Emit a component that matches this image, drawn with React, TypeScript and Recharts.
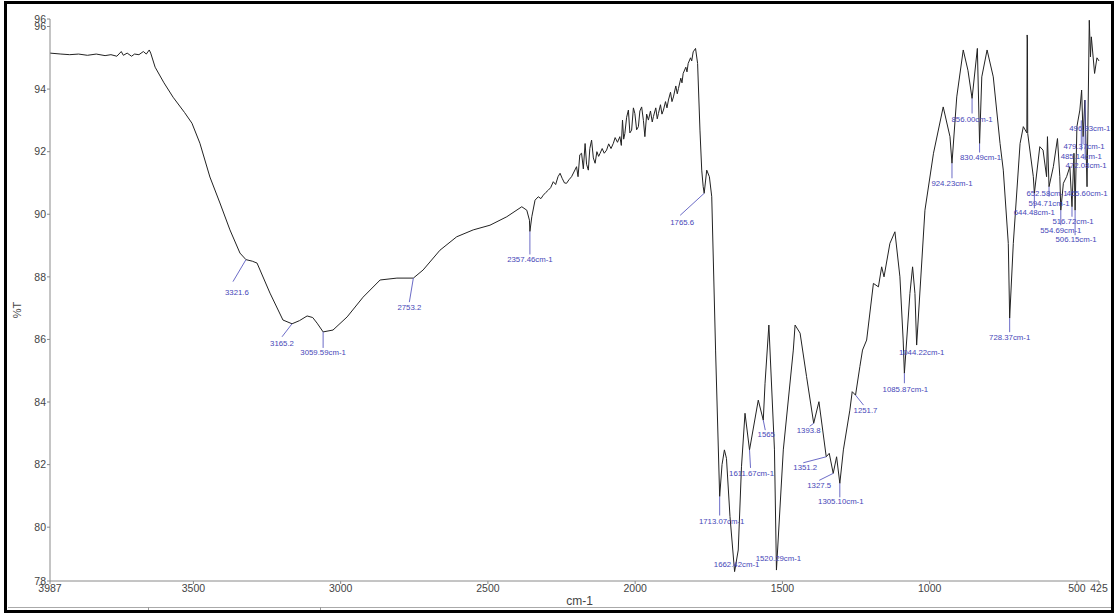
import React from "react";
import { LineChart, Line, XAxis, YAxis, ReferenceDot } from "recharts";

// IR spectrum: wavenumber (cm-1) and transmittance (%T)
const wavenumbers = [
  3987, 3950, 3920, 3890, 3860, 3830, 3800, 3780, 3760, 3745, 3738, 3725, 3710, 3700, 3685, 3670, 3660, 3650, 3645,
  3630, 3600, 3569, 3530, 3505, 3478, 3444, 3410, 3376, 3342, 3321.6, 3300, 3284, 3240, 3196, 3165.2, 3140, 3114,
  3095, 3080, 3059.59, 3026, 2978, 2924, 2866, 2809, 2753.2, 2720, 2663, 2606, 2550, 2493, 2436, 2385, 2368, 2359,
  2357.46, 2351, 2340, 2329, 2320, 2312, 2303, 2295, 2287, 2278, 2270, 2262, 2255, 2248, 2240, 2233, 2225, 2216,
  2208, 2199, 2194, 2188, 2182, 2176, 2170, 2165, 2159, 2154, 2148, 2142, 2136, 2130, 2124, 2119, 2112, 2105, 2097,
  2090, 2082, 2074, 2068, 2060, 2052, 2047, 2043, 2039, 2035, 2029, 2023, 2018, 2012, 2006, 2001, 1995, 1989, 1984,
  1978, 1972, 1967, 1961, 1955, 1948, 1942, 1938, 1930, 1925, 1921, 1914, 1909, 1904, 1897, 1892, 1887, 1880, 1875,
  1870, 1862, 1857, 1853, 1845, 1841, 1837, 1828, 1824, 1820, 1812, 1808, 1803, 1795,
  1788, 1780, 1774, 1769, 1765.6, 1757, 1748, 1740, 1727, 1713.07, 1705, 1697, 1690, 1678, 1662.42,
  1650, 1639, 1627, 1611.67, 1582, 1565, 1559, 1546, 1527, 1520.29, 1497, 1463, 1457, 1440, 1418, 1393.8, 1376,
  1351.2, 1341, 1327.5, 1316, 1305.1, 1293, 1271, 1263, 1251.7, 1237, 1228, 1214, 1191, 1174, 1163, 1155, 1135,
  1118, 1101, 1090, 1085.87, 1067, 1058, 1050, 1044.22, 1016, 987, 954, 931, 924.23, 908, 886, 870, 856, 838,
  830.49, 823, 805, 784, 761, 750, 733, 728.37, 716, 693, 682, 670, 669, 668, 667, 648, 644.48, 626, 615, 603, 600,
  594.71, 580, 566, 558, 554.69, 546, 535, 524, 516.72, 510, 506.15, 500, 490, 484, 479, 473, 465.6, 462, 458, 454,
  451, 440, 432, 425,
];
const transmittance = [
  95.15, 95.12, 95.1, 95.12, 95.08, 95.12, 95.07, 95.1, 95.05, 95.2, 95.08, 95.15, 95.05, 95.12, 95.1, 95.2, 95.12, 95.25, 95.15,
  94.7, 94.2, 93.74, 93.25, 92.91, 92.27, 91.19, 90.36, 89.5, 88.76, 88.55, 88.5, 88.44, 87.48, 86.62, 86.5, 86.6, 86.75,
  86.7, 86.52, 86.24, 86.3, 86.72, 87.35, 87.9, 87.96, 87.96, 88.22, 88.85, 89.28, 89.5, 89.65, 89.92, 90.24, 90.13, 89.81,
  89.45, 89.92, 90.45, 90.56, 90.5, 90.61, 90.7, 90.77, 90.85, 91.04, 90.95, 91.2, 91.31, 91.15, 91.0, 90.99, 91.1, 91.2,
  91.35, 91.52, 91.2, 91.9, 91.95, 91.45, 92.26, 91.6, 91.41, 92.1, 92.37, 91.8, 91.63, 92.0, 91.85, 91.95, 92.1, 91.95, 92.05,
  92.25, 92.1, 92.27, 92.45, 92.3, 92.48, 92.2, 93.01, 92.4, 92.58, 93.1, 93.33, 92.6, 92.69, 93.4, 93.22, 92.7, 92.8, 93.3,
  93.43, 93.0, 92.48, 93.2, 93.01, 93.3, 92.95, 93.12, 93.4, 93.05, 93.22, 93.5, 93.2, 93.33, 93.6, 93.4, 93.65, 93.9, 93.6,
  93.75, 94.1, 93.85, 94.02, 94.35, 94.2, 94.5, 94.7, 94.55, 94.82, 95.0, 94.9, 95.19, 95.3,
  94.82, 92.69, 91.41, 90.88, 90.67, 91.41, 91.2, 90.56, 85.66, 80.98, 82.0, 82.47, 82.2, 80.34, 78.58,
  79.27, 81.93, 83.64, 82.47, 84.06, 83.42, 84.6, 86.46, 82.47, 78.63, 82.47, 85.66, 86.46, 86.2, 84.81, 83.32, 84.01,
  82.25, 82.36, 81.72, 82.25, 81.4, 82.47, 83.74, 84.33, 84.22, 85.13, 85.66, 85.98, 87.79, 87.68, 88.32, 88.0, 89.07,
  89.44, 88.0, 85.98, 84.92, 87.47, 88.32, 87.47, 85.82, 90.13, 91.95, 93.43, 92.48, 91.63, 93.75, 95.25, 94.6, 93.7, 95.3,
  92.26, 94.39, 95.25, 94.39, 92.26, 91.41, 89.07, 86.68, 89.07, 92.26, 92.8, 92.6, 95.73, 95.6, 92.58, 91.2, 90.67, 92.16, 92.05, 91.2, 92.48,
  90.88, 91.52, 92.42, 91.2, 90.13, 90.99, 91.2, 91.52, 90.24, 91.95, 90.13, 92.8, 93.33, 93.97, 92.48, 93.65, 90.88, 93.33, 96.2, 95.03,
  95.67, 94.5, 95.0, 94.9,
];

const xTicks = [3987, 3500, 3000, 2500, 2000, 1500, 1000, 500, 425];
const yTicks = [78.28, 80, 82, 84, 86, 88, 90, 92, 94, 96, 96.24];

// peak annotations
const annLabels = [
  "3321.6", "3165.2", "3059.59cm-1", "2753.2", "2357.46cm-1", "1765.6", "1713.07cm-1", "1662.42cm-1",
  "1611.67cm-1", "1565", "1520.29cm-1", "1393.8", "1351.2", "1327.5", "1305.10cm-1", "1251.7",
  "1085.87cm-1", "1044.22cm-1", "924.23cm-1", "856.00cm-1", "830.49cm-1", "728.37cm-1", "652.58cm-1",
  "594.71cm-1", "644.48cm-1", "554.69cm-1", "516.72cm-1", "506.15cm-1", "465.60cm-1", "496.93cm-1",
  "479.37cm-1", "485.14cm-1", "472.08cm-1",
];
const annWn = [
  3321.6, 3165.2, 3059.59, 2753.2, 2357.46, 1765.6, 1713.07, 1662.42, 1611.67, 1565, 1520.29, 1393.8, 1351.2,
  1327.5, 1305.1, 1251.7, 1085.87, 1044.22, 924.23, 856.0, 830.49, 728.37, 652.58, 594.71, 644.48, 554.69,
  516.72, 506.15, 465.6, 496.93, 479.37, 485.14, 472.08,
];
const annT = [
  88.55, 86.5, 86.24, 87.96, 89.45, 90.67, 80.98, 78.58, 82.47, 83.42, 78.63, 83.32, 82.25, 81.72, 81.4, 84.22,
  84.92, 85.82, 91.63, 93.7, 92.26, 86.68, 91.4, 90.88, 90.67, 90.13, 90.24, 90.13, 90.88, 92.8, 92.5, 93.0, 93.65,
];
// style: [leaderDx, leaderDy, textDx, textDy] in px
const annOffsets = [
  [-13, 22, -9, 35], [-10, 13, -10, 22], [0, 16, 0, 23], [-4, 24, -4, 32], [0, 23, 0, 31], [-24, 22, -22, 32],
  [0, 19, 2, 27], [0, 0, 2, -5], [1, 18, 2, 26], [2, 10, 3, 17], [0, 0, 2, -9], [-4, 3, -5, 10], [-23, 6, -21, 13],
  [-14, 7, -14, 15], [0, 14, 1, 21], [8, 10, 10, 18], [0, 10, 1, 19], [0, 0, 5, 10], [0, 15, 0, 23], [0, 15, 0, 24],
  [0, 9, 1, 16], [0, 14, 0, 22], [0, 0, 15, 26], [0, 10, 0, 19], [0, 15, 0, 22], [0, 15, 0, 23], [0, 10, 1, 17],
  [0, 25, 1, 32], [0, 0, 0, 9], [0, 0, 12, 4], [0, 8, 1, 13], [0, 30, 0, 39], [0, 60, 1, 68],
];

const data = wavenumbers.map((wn, i) => ({ wn, t: transmittance[i] }));

const FONT = "'Liberation Sans Narrow', 'Liberation Sans', Arial, sans-serif";
const ANN_COLOR = "#4646b8";

export default function App() {
  return (
    <div style={{ position: "absolute", left: 0, top: 0, width: 1117, height: 614, background: "#fff" }}>
      <LineChart width={1117} height={614} data={data} margin={{ top: 19, right: 18, bottom: 0, left: 0 }}>
        <XAxis
          dataKey="wn"
          type="number"
          domain={[425, 3987]}
          reversed
          ticks={xTicks}
          interval={0}
          height={33}
          tickSize={3}
          tickMargin={1}
          stroke="#8a8a8a"
          tick={{ fill: "#444", fontSize: 10.5, fontFamily: FONT }}
          tickFormatter={(v) => String(v)}
          label={{ value: "cm-1", position: "insideBottom", offset: 9, dx: 5, fill: "#444", fontSize: 12, fontFamily: FONT }}
        />
        <YAxis
          type="number"
          domain={[78.28, 96.24]}
          ticks={yTicks}
          interval={0}
          width={50}
          tickSize={3}
          tickMargin={1}
          stroke="#8a8a8a"
          allowDataOverflow
          tick={{ fill: "#444", fontSize: 10.5, fontFamily: FONT }}
          tickFormatter={(v) => String(Math.round(v))}
        />
        <Line
          type="linear"
          dataKey="t"
          stroke="#222"
          strokeWidth={1}
          dot={false}
          activeDot={false}
          isAnimationActive={false}
        />
        {annLabels.map((lab, i) => {
          const [ldx, ldy, tdx, tdy] = annOffsets[i];
          return (
            <ReferenceDot
              key={lab}
              x={annWn[i]}
              y={annT[i]}
              r={0}
              ifOverflow="visible"
              shape={(p: any) => (
                <g>
                  {(ldx !== 0 || ldy !== 0) && (
                    <line x1={p.cx} y1={p.cy} x2={p.cx + ldx} y2={p.cy + ldy} stroke="#5a5ac0" strokeWidth={0.9} />
                  )}
                  <text
                    x={p.cx + tdx}
                    y={p.cy + tdy}
                    textAnchor="middle"
                    fontSize={7.8}
                    fontFamily={FONT}
                    fill={ANN_COLOR}
                  >
                    {lab}
                  </text>
                </g>
              )}
            />
          );
        })}
      </LineChart>
      <div
        style={{
          position: "absolute",
          left: 4,
          top: 10,
          width: 26,
          height: 600,
          display: "flex",
          alignItems: "center",
          justifyContent: "center",
          pointerEvents: "none",
        }}
      >
        <div style={{ transform: "rotate(-90deg)", fontFamily: FONT, fontSize: 11, color: "#444" }}>%T</div>
      </div>
      <div style={{ position: "absolute", left: 8, top: 607, width: 1103, height: 1, background: "#aaa" }} />
      <div style={{ position: "absolute", left: 148, top: 607, width: 1, height: 5, background: "#999" }} />
      <div style={{ position: "absolute", left: 320, top: 607, width: 1, height: 5, background: "#999" }} />
      <div
        style={{
          position: "absolute",
          left: 4,
          top: 1,
          width: 1110,
          height: 612,
          boxSizing: "border-box",
          border: "3px solid #000",
          pointerEvents: "none",
        }}
      />
    </div>
  );
}
